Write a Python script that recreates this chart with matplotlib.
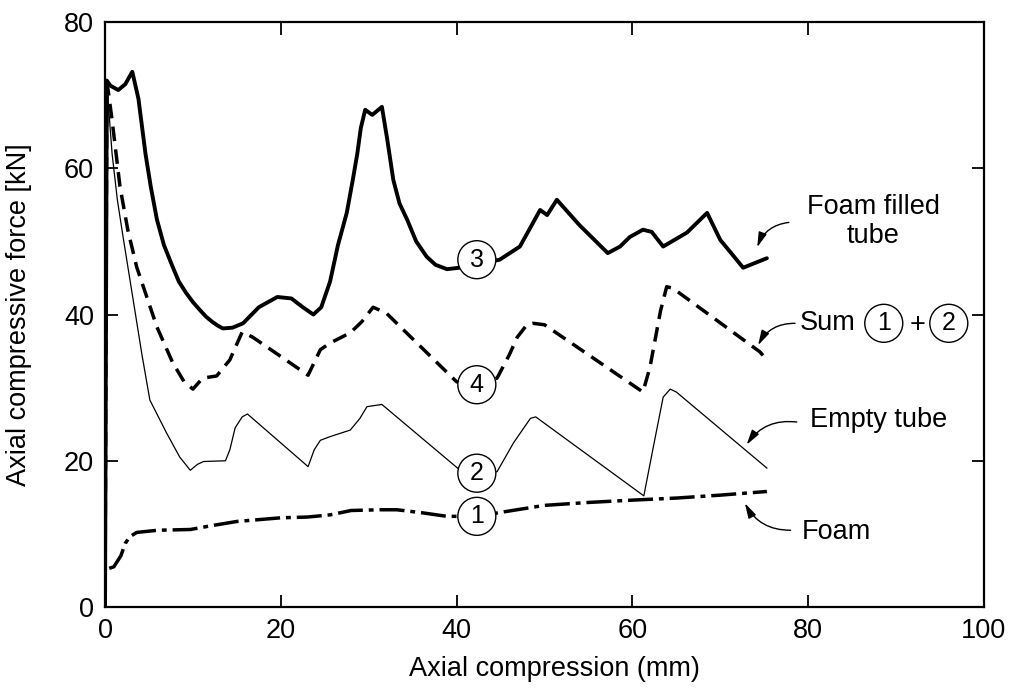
import numpy as np
import matplotlib.pyplot as plt

plt.rcParams['font.family'] = ['Liberation Sans', 'DejaVu Sans']

# Foam filled tube (curve 3)
filled_x = [0, 0.2, 0.6, 1.5, 2.3, 3.1, 3.8, 4.6, 5.2, 5.9, 6.7, 7.7, 8.4, 9.2, 10.0, 10.8,
            11.5, 12.2, 12.8, 13.4, 14.5, 15.7, 17.5, 19.6, 21.2, 22.5, 23.7, 24.6, 25.6, 26.5,
            27.5, 28.2, 28.7, 29.1, 29.6, 30.4, 31.5, 32.1, 32.8, 33.5, 34.4, 35.4, 36.6, 37.6,
            38.9, 41.0, 44.9, 47.2, 49.5, 50.3, 51.4, 54.0, 57.2, 58.6, 59.7, 61.2, 62.2, 63.5,
            66.2, 68.5, 70.0, 71.1, 72.6, 75.3]
filled_y = [0, 72, 71.3, 70.7, 71.5, 73.2, 69.5, 62, 57.5, 53, 49.5, 46.5, 44.5, 43.0, 41.7, 40.6,
            39.7, 39.0, 38.5, 38.1, 38.2, 38.8, 41.0, 42.4, 42.2, 41.0, 40.0, 41.0, 44.5, 49.5,
            53.9, 58.5, 62.0, 65.5, 68.0, 67.3, 68.4, 64.0, 58.4, 55.2, 52.9, 50.0, 47.9, 46.8,
            46.2, 46.5, 47.5, 49.3, 54.3, 53.6, 55.7, 52.2, 48.4, 49.3, 50.6, 51.6, 51.3, 49.3,
            51.2, 53.9, 50.2, 48.6, 46.4, 47.7]

# Sum 1 + 2 (curve 4)
sum_x = [0, 0.2, 0.8, 1.7, 2.6, 3.6, 5.9, 7.7, 9.0, 10.0, 11.1, 12.7, 14.2, 15.6, 16.8, 23.1,
         24.5, 25.6, 27.9, 29.2, 30.5, 32.0, 40.0, 42.3, 44.6, 46.0, 46.9, 48.0, 48.7, 50.0,
         61.2, 62.0, 63.2, 63.9, 64.6, 74.5, 75.3]
sum_y = [0, 72, 66.6, 57.5, 51.5, 46.5, 38.3, 33.4, 30.8, 29.8, 31.3, 31.6, 33.8, 37.6, 36.9, 31.7,
         35.2, 36.1, 37.5, 39.0, 41.0, 40.2, 30.8, 30.4, 31.3, 34.5, 36.9, 38.6, 38.8, 38.6,
         29.4, 32.8, 40.5, 43.8, 43.6, 34.9, 33.8]

# Empty tube (curve 2)
empty_x = [0, 0.3, 0.8, 1.4, 2.0, 3.2, 4.2, 5.1, 7.0, 8.5, 9.7, 10.5, 11.2, 13.7, 14.2, 14.8,
           15.6, 16.2, 23.1, 23.8, 24.5, 25.6, 27.9, 29.0, 29.8, 31.5, 40.4, 42.3, 44.6, 46.5,
           48.4, 49.0, 61.3, 62.4, 63.5, 64.3, 65.0, 75.3]
empty_y = [0, 70, 62, 55.7, 51, 42, 34.5, 28.3, 23.8, 20.5, 18.7, 19.5, 19.9, 20.0, 21.5, 24.5,
           26.0, 26.4, 19.2, 21.5, 22.8, 23.3, 24.2, 25.8, 27.4, 27.7, 18.7, 18.3, 18.5, 22.5,
           25.8, 26.0, 15.2, 22.0, 28.7, 29.8, 29.4, 19.0]

# Foam (curve 1)
foam_x = [0, 0, 1.0, 1.8, 2.3, 2.8, 3.6, 6.0, 9.7, 12.0, 15.0, 20.0, 23.0, 25.6, 28.0, 31.3,
          33.2, 36.0, 38.9, 42.3, 45.3, 50.0, 55.0, 59.7, 65.0, 70.0, 75.3]
foam_y = [0, 5.1, 5.5, 7.0, 8.7, 9.6, 10.2, 10.5, 10.6, 11.1, 11.7, 12.2, 12.3, 12.6, 13.2, 13.3,
          13.3, 12.9, 12.4, 12.4, 13.0, 13.9, 14.3, 14.6, 14.9, 15.3, 15.8]

xticks = [0, 20, 40, 60, 80, 100]
yticks = [0, 20, 40, 60, 80]

fig = plt.figure(figsize=(10.12, 6.89), dpi=100)
ax = fig.add_axes([0.1038, 0.119, 0.8685, 0.849])

ax.plot(filled_x, filled_y, color='black', lw=2.8, solid_joinstyle='round', solid_capstyle='round')
ax.plot(sum_x, sum_y, color='black', lw=2.5, linestyle=(0, (4.2, 2.4)))
ax.plot(empty_x, empty_y, color='black', lw=0.9)
ax.plot(foam_x, foam_y, color='black', lw=2.5, linestyle=(0, (7.2, 1.7, 1.4, 1.7)))

circ = dict(boxstyle='circle,pad=0.28', fc='white', ec='black', lw=1.0)
for lbl, cy in [('1', 12.4), ('2', 18.3), ('3', 47.5), ('4', 30.4)]:
    ax.text(42.3, cy, lbl, fontsize=18, ha='center', va='center', bbox=circ)

arrow = dict(arrowstyle='-|>,head_length=0.9,head_width=0.25', color='black', lw=1.0,
             connectionstyle='arc3,rad=0.3', shrinkA=0, shrinkB=0)
ax.annotate('', xy=(74.2, 49.2), xytext=(77.8, 52.6), arrowprops=arrow)
ax.annotate('', xy=(74.3, 35.8), xytext=(78.5, 38.8), arrowprops=arrow)
ax.annotate('', xy=(73.0, 22.2), xytext=(78.7, 25.3), arrowprops=arrow)
ax.annotate('', xy=(72.8, 14.2), xytext=(78.0, 10.5),
            arrowprops=dict(arrow, connectionstyle='arc3,rad=-0.3'))

fs = 19.5
ax.text(87.4, 52.7, 'Foam filled\ntube', fontsize=fs, ha='center', va='center', linespacing=1.15)
ax.text(79.0, 38.8, 'Sum', fontsize=fs, ha='left', va='center')
ax.text(88.6, 38.8, '1', fontsize=18, ha='center', va='center', bbox=circ)
ax.text(92.5, 38.5, '+', fontsize=fs, ha='center', va='center')
ax.text(96.0, 38.8, '2', fontsize=18, ha='center', va='center', bbox=circ)
ax.text(80.2, 25.6, 'Empty tube', fontsize=fs, ha='left', va='center')
ax.text(79.3, 10.3, 'Foam', fontsize=fs, ha='left', va='center')

ax.set_xlim(0, 100)
ax.set_ylim(0, 80)
ax.set_xticks(xticks)
ax.set_yticks(yticks)
ax.tick_params(direction='in', length=9, width=1.3, top=True, right=True, labelsize=fs, pad=8)
for s in ax.spines.values():
    s.set_linewidth(1.6)
ax.set_xlabel('Axial compression (mm)', fontsize=fs)
ax.set_ylabel('Axial compressive force [kN]', fontsize=fs)
ax.xaxis.set_label_coords(0.511, -0.084)
ax.yaxis.set_label_coords(-0.083, 0.5)

fig.savefig('out.png', dpi=100)
